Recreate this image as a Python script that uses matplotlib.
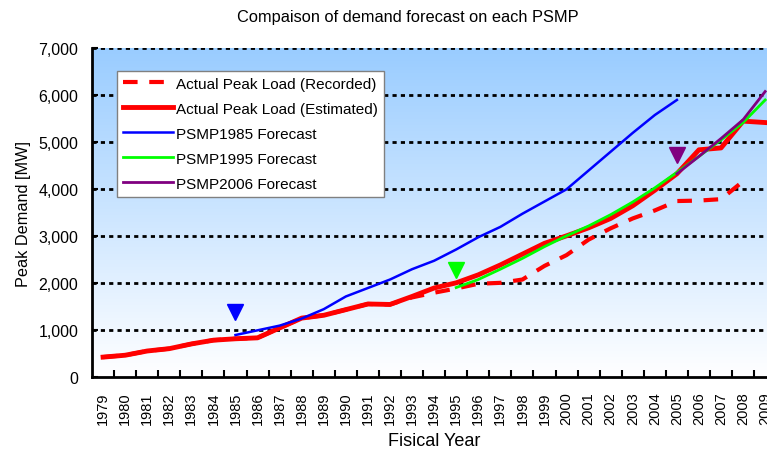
import matplotlib
matplotlib.use("Agg")
import matplotlib.pyplot as plt
from matplotlib.colors import LinearSegmentedColormap
import numpy as np

plt.rcParams['font.family'] = ['Liberation Sans', 'DejaVu Sans']

years = list(range(1979, 2010))

# peak load, MW
estimated = [430, 470, 560, 610, 710, 790, 820, 840, 1050, 1260, 1320, 1440,
             1560, 1550, 1720, 1900, 2010, 2180, 2390, 2620, 2850, 3010,
             3180, 3380, 3650, 3980, 4330, 4840, 4880, 5450, 5420]
recorded_years = list(range(1979, 2009))
recorded = [430, 470, 560, 610, 710, 790, 820, 840, 1050, 1260, 1320, 1440,
            1560, 1550, 1700, 1800, 1890, 1990, 2010, 2080, 2370, 2600,
            2930, 3170, 3380, 3550, 3750, 3760, 3790, 4170]

psmp1985_years = list(range(1985, 2006))
psmp1985 = [900, 1000, 1100, 1250, 1450, 1720, 1900, 2080, 2300, 2480, 2720,
            2980, 3200, 3480, 3740, 4000, 4400, 4800, 5200, 5580, 5900]
psmp1995_years = list(range(1995, 2010))
psmp1995 = [1910, 2080, 2300, 2530, 2780, 3010, 3220, 3460, 3730, 4030, 4360,
            4700, 5050, 5420, 5900]
psmp2006_years = list(range(2005, 2010))
psmp2006 = [4330, 4700, 5080, 5480, 6080]

# plan start markers
marker_years = [1985, 1995, 2005]
marker_values = [1380, 2280, 4730]
marker_colors = ['#0000FF', '#00FF00', '#800080']

def pos(ys):
    return [y - years[0] for y in ys]

fig = plt.figure(figsize=(7.67, 4.52), dpi=100)
ax = fig.add_axes([0.120, 0.163, 1.012 - 0.120, 0.728])

# blue-to-white background
cmap = LinearSegmentedColormap.from_list('bg', ['#FFFFFF', '#99CCFF'])
grad = np.linspace(0, 1, 256).reshape(-1, 1)
ax.imshow(grad, cmap=cmap, aspect='auto', origin='lower',
          extent=[0, 1, 0, 1], transform=ax.transAxes, zorder=0)

for v in range(1000, 7001, 1000):
    ax.axhline(v, color='black', lw=2, linestyle=(0, (1.5, 1.5)), zorder=1)

ax.plot(pos(recorded_years), recorded, color='#FF0000', lw=3,
        linestyle=(0, (3.5, 2.8)), label='Actual Peak Load (Recorded)', zorder=3)
ax.plot(pos(years), estimated, color='#FF0000', lw=3.5,
        label='Actual Peak Load (Estimated)', zorder=4)
ax.plot(pos(psmp1985_years), psmp1985, color='#0000FF', lw=1.8,
        label='PSMP1985 Forecast', zorder=5)
ax.plot(pos(psmp1995_years), psmp1995, color='#00FF00', lw=2,
        label='PSMP1995 Forecast', zorder=5)
ax.plot(pos(psmp2006_years), psmp2006, color='#800080', lw=2,
        label='PSMP2006 Forecast', zorder=6)

for yr, v, c in zip(marker_years, marker_values, marker_colors):
    ax.plot(yr - years[0], v, marker='v', color=c, markersize=12,
            linestyle='none', zorder=7)

ax.set_xlim(-0.5, len(years) - 0.5)
ax.set_ylim(0, 7000)
ax.set_xticks(range(len(years)))
ax.set_xticklabels([str(y) for y in years], rotation=90, fontsize=10.5)
ax.set_xticks(np.arange(0.5, len(years) - 0.5, 1), minor=True)
ax.tick_params(axis='x', which='major', length=0, pad=10)
ax.tick_params(axis='x', which='minor', direction='in', length=5, width=1.5)
ax.set_yticks(range(0, 7001, 1000))
ax.set_yticklabels([f'{v:,}' for v in range(0, 7001, 1000)], fontsize=11.5)
ax.tick_params(axis='y', direction='in', length=4, width=1.5, pad=10)

for side in ['top', 'right']:
    ax.spines[side].set_visible(False)
for side in ['left', 'bottom']:
    ax.spines[side].set_linewidth(2)

ax.set_xlabel('Fisical Year', fontsize=13, labelpad=6)
ax.set_ylabel('Peak Demand [MW]', fontsize=11.7, labelpad=5)
fig.text(0.532, 0.962, 'Compaison of demand forecast on each PSMP',
         fontsize=11.8, ha='center', va='center')

leg = ax.legend(loc='upper left', bbox_to_anchor=(0.036, 0.932), fontsize=11,
                handlelength=3.3, handletextpad=0.2, labelspacing=0.72,
                fancybox=False, framealpha=1, edgecolor='#808080',
                borderpad=0.4, borderaxespad=0)
leg.get_frame().set_linewidth(1)

fig.savefig('out.png', dpi=100)
